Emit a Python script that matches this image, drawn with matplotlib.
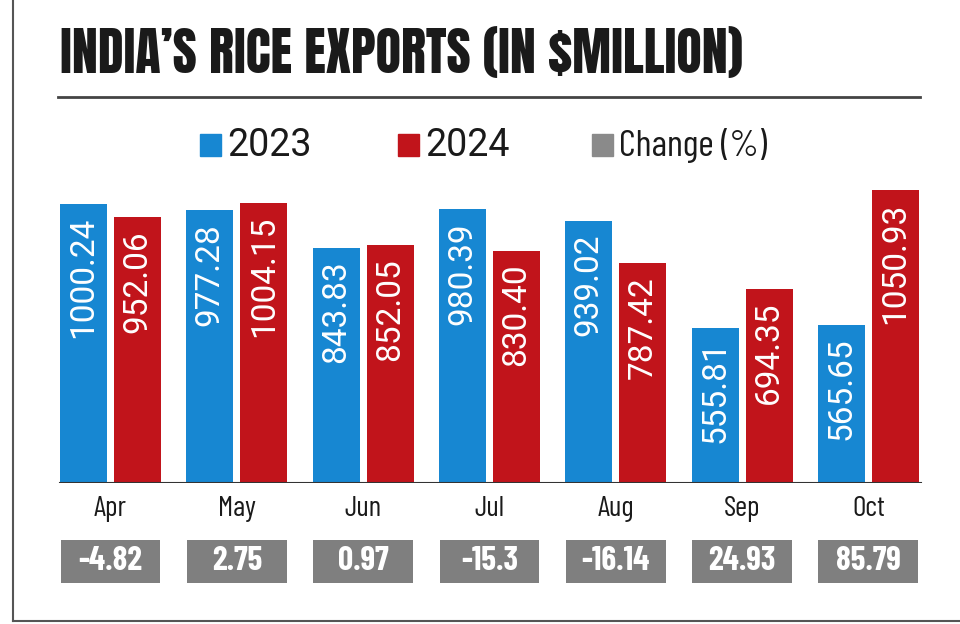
import numpy as np
import matplotlib
matplotlib.use("Agg")
import matplotlib.pyplot as plt

months = ['Apr', 'May', 'Jun', 'Jul', 'Aug', 'Sep', 'Oct']
exports_2023 = [1000.24, 977.28, 843.83, 980.39, 939.02, 555.81, 565.65]
exports_2024 = [952.06, 1004.15, 852.05, 830.40, 787.42, 694.35, 1050.93]
change_pct = ['-4.82', '2.75', '0.97', '-15.3', '-16.14', '24.93', '85.79']

blue = '#1787d2'
red = '#c1141b'
grey = '#7f7f7f'
heavy = ['Anton', 'Oswald', 'Barlow Condensed', 'DejaVu Sans']
narrow = ['Barlow Condensed', 'DejaVu Sans']
plain = ['Roboto', 'DejaVu Sans']

fig = plt.figure(figsize=(9.6, 6.24), dpi=100)
W, H = 960, 624
renderer = fig.canvas.get_renderer()


def fit_width(t, max_px):
    # shrink a text until it fits the width it has in the reference
    while t.get_window_extent(renderer).width > max_px:
        t.set_fontsize(t.get_fontsize() - 0.5)


# border lines (left and bottom)
fig.add_artist(plt.Line2D([13 / W, 13 / W], [3 / H, 1], color='#555555', lw=1.5))
fig.add_artist(plt.Line2D([13 / W, 1], [3 / H, 3 / H], color='#555555', lw=1.5))

# title and rule
title = fig.text(60 / W, 1 - 53 / H, "INDIA\u2019S RICE EXPORTS (IN $MILLION)", family=heavy,
                 fontsize=44, va='center', ha='left', color='#1a1a1a')
fit_width(title, 687)
fig.add_artist(plt.Line2D([58 / W, 920 / W], [1 - 97 / H, 1 - 97 / H], color='#444444', lw=2))

# legend
legend_items = [('2023', blue, 200, plain, 85), ('2024', red, 398, plain, 85),
                ('Change (%)', '#8a8a8a', 592, narrow, 158)]
for label, col, px, fam, maxw in legend_items:
    fig.add_artist(plt.Rectangle((px / W, 1 - 156 / H), 21 / W, 22 / H, color=col,
                                 transform=fig.transFigure))
    t = fig.text((px + 27) / W, 1 - 145 / H, label, fontsize=27, va='center', ha='left',
                 family=fam, color='#1a1a1a')
    fit_width(t, maxw)

# bars
x = np.arange(len(months))
ax = fig.add_axes([47.35 / W, 141 / H, 884.2 / W, 313 / H])
w = 0.372
off = 0.214
b1 = ax.bar(x - off, exports_2023, w, color=blue)
b2 = ax.bar(x + off, exports_2024, w, color=red)
ax.set_xlim(-0.5, 6.5)
ax.set_ylim(0, 313 / 0.279)
ax.axis('off')
ax.axhline(0, xmin=(60 - 47.35) / 884.2, xmax=(921 - 47.35) / 884.2, color='#333333', lw=1.5)

for bars, vals in [(b1, exports_2023), (b2, exports_2024)]:
    for b, v in zip(bars, vals):
        ax.annotate(f'{v:.2f}', (b.get_x() + b.get_width() / 2, v), xytext=(0, -9),
                    textcoords='offset points', rotation=90, ha='center', va='top',
                    color='white', fontsize=24, family=plain)

# month labels
for xi, m in zip(x, months):
    ax.text(xi, -26 / 0.279, m, ha='center', va='center', fontsize=21, family=narrow,
            color='#1a1a1a')

# change boxes
ax2 = fig.add_axes([47.35 / W, 1 - 583 / H, 884.2 / W, 43 / H])
ax2.bar(x, [1] * len(x), 0.79, color=grey)
ax2.set_xlim(-0.5, 6.5)
ax2.set_ylim(0, 1)
ax2.axis('off')
for xi, c in zip(x, change_pct):
    t = ax2.text(xi, 0.5, c, ha='center', va='center', color='white', fontsize=24,
                 fontweight='bold', family=narrow)
    fit_width(t, 92)

fig.savefig('out.png', dpi=100)
